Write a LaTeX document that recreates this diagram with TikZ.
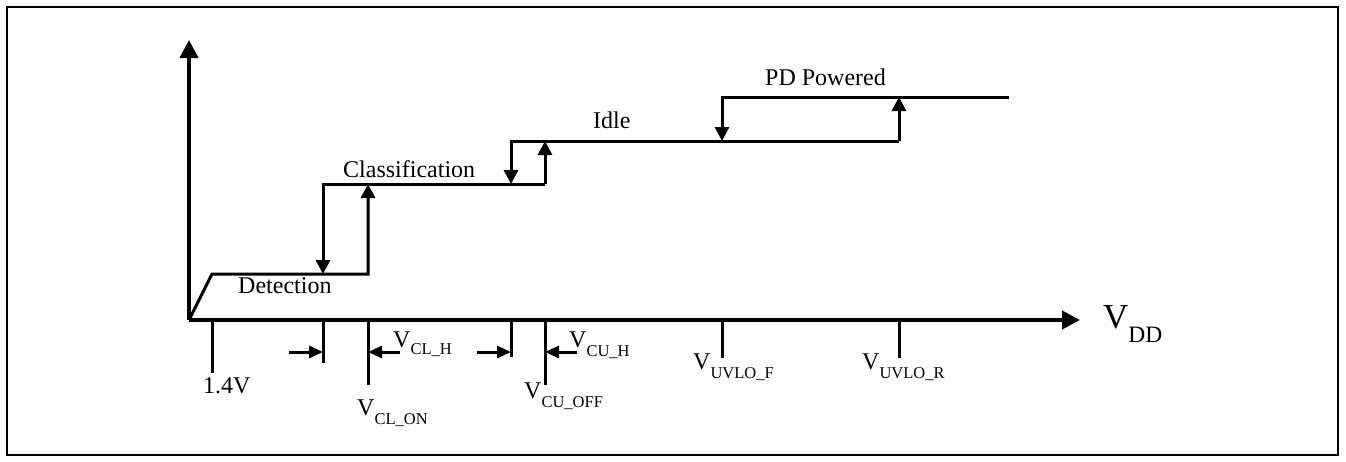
\documentclass[tikz,border=0pt]{standalone}
\usepackage{fontspec}
\setmainfont{Liberation Serif}
\usetikzlibrary{arrows.meta}
\newcommand\vlab[2][8pt]{V\raisebox{-#1}{\fontsize{16.5}{16.5}\selectfont #2}}
\begin{document}
\begin{tikzpicture}[x=1pt,y=-1pt,
  axis/.style={line width=4pt,-{Triangle[length=18pt,width=18pt]}},
  stepline/.style={line width=3pt,line join=miter},
  vtip/.style={-{Triangle[length=14pt,width=14pt]}},
  tick/.style={line width=3pt},
  harrow/.style={line width=3pt,-{Triangle[length=14pt,width=12pt]}},
  lab/.style={font=\fontsize{24}{24}\selectfont,inner sep=0pt,anchor=base west},
  vdd/.style={font=\fontsize{35}{35}\selectfont,inner sep=0pt,anchor=base west}]
\useasboundingbox (0,0) rectangle (1346,461);
\draw[line width=2pt] (7,7) rectangle (1338,455);
% axes
\coordinate (O) at (189,320);
\coordinate (Ytop) at (189,40);
\coordinate (Xend) at (1080,320);
\draw[axis] (O) -- (Ytop);
\draw[axis] (O) -- (Xend);
% step curve
\coordinate (d0) at (212,274);
\coordinate (d1) at (368,274);
\coordinate (c1) at (368,184);
\coordinate (c0) at (323,184);
\coordinate (d2) at (323,274);
\coordinate (c2) at (545,184);
\coordinate (i2) at (545,141);
\coordinate (i0) at (511,141);
\coordinate (c3) at (511,184);
\coordinate (i1) at (899,141);
\coordinate (p1) at (899,97);
\coordinate (p0) at (722,97);
\coordinate (i3) at (722,141);
\coordinate (p2) at (1009,97);
\draw[stepline,vtip] (O) -- (d0) -- (d1) -- (c1);
\draw[stepline,vtip] (c2) -- (c0) -- (d2);
\draw[stepline,vtip] (c2) -- (i2);
\draw[stepline,vtip] (i1) -- (i0) -- (c3);
\draw[stepline,vtip] (i1) -- (p1);
\draw[stepline,vtip] (p2) -- (p0) -- (i3);
% state labels
\node[lab] (det) at (238,293) {Detection};
\node[lab] (cls) at (343,177) {Classification};
\node[lab] (idle) at (593,128) {Idle};
\node[lab] (pdp) at (765,85) {PD Powered};
% ticks
\coordinate (t1a) at (212,320); \coordinate (t1b) at (212,373);
\coordinate (t2a) at (323,320); \coordinate (t2b) at (323,363);
\coordinate (t3a) at (368,320); \coordinate (t3b) at (368,385);
\coordinate (t4a) at (511,320); \coordinate (t4b) at (511,357);
\coordinate (t5a) at (545,320); \coordinate (t5b) at (545,385);
\coordinate (t6a) at (722,320); \coordinate (t6b) at (722,358);
\coordinate (t7a) at (899,320); \coordinate (t7b) at (899,358);
\foreach \a/\b in {t1a/t1b,t2a/t2b,t3a/t3b,t4a/t4b,t5a/t5b,t6a/t6b,t7a/t7b}
  \draw[tick] (\a) -- (\b);
% hysteresis arrows
\coordinate (h1) at (289,352); \coordinate (h1e) at (323,352);
\coordinate (h2) at (400,352); \coordinate (h2e) at (368,352);
\coordinate (h3) at (477,352); \coordinate (h3e) at (511,352);
\coordinate (h4) at (577,352); \coordinate (h4e) at (545,352);
\draw[harrow] (h1) -- (h1e);
\draw[harrow] (h2) -- (h2e);
\draw[harrow] (h3) -- (h3e);
\draw[harrow] (h4) -- (h4e);
% axis labels
\node[lab] (v14) at (203,393) {1.4V};
\node[lab] (vclh) at (393,347) {\vlab[7pt]{CL\_H}};
\node[lab] (vcuh) at (569,347) {\vlab[9pt]{CU\_H}};
\node[lab] (vclon) at (357,415) {\vlab[9pt]{CL\_ON}};
\node[lab] (vcuoff) at (524,398) {\vlab[9pt]{CU\_OFF}};
\node[lab] (vuvf) at (693,369) {\vlab[9pt]{UVLO\_F}};
\node[lab] (vuvr) at (862,369) {\vlab[9pt]{UVLO\_R}};
\node[vdd] (vdd) at (1103,328) {V\raisebox{-14pt}{\fontsize{23.5}{23.5}\selectfont DD}};
\end{tikzpicture}
\end{document}
